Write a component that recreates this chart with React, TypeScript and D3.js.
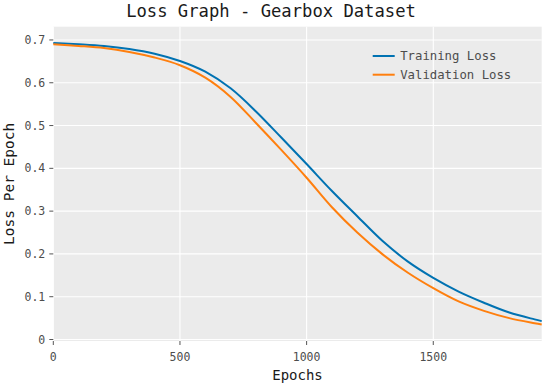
import React from "react";
import * as d3 from "d3";

const epochs = [0, 100, 200, 300, 400, 500, 600, 700, 800, 900, 1000, 1100, 1200, 1300, 1400, 1500, 1600, 1700, 1800, 1900, 1928];
const trainingLoss = [0.693, 0.690, 0.686, 0.679, 0.668, 0.651, 0.626, 0.587, 0.533, 0.472, 0.410, 0.347, 0.288, 0.230, 0.182, 0.144, 0.112, 0.086, 0.063, 0.047, 0.043];
const validationLoss = [0.690, 0.686, 0.681, 0.672, 0.659, 0.641, 0.612, 0.567, 0.506, 0.443, 0.378, 0.309, 0.250, 0.199, 0.156, 0.120, 0.089, 0.067, 0.050, 0.038, 0.035];
const xTicks = [0, 500, 1000, 1500];
const yTicks = [0, 0.1, 0.2, 0.3, 0.4, 0.5, 0.6, 0.7];
const seriesNames = ["Training Loss", "Validation Loss"];
const seriesColors = ["#0072B2", "#FF7F0E"];
const title = "Loss Graph - Gearbox Dataset";
const xTitle = "Epochs";
const yTitle = "Loss Per Epoch";

const W = 550;
const H = 389;
const panel = { left: 53.3, right: 541.7, top: 26.7, bottom: 341 };
const font = "'DejaVu Sans Mono', monospace";

export default function App() {
  const x = d3.scaleLinear().domain([0, 1928]).range([panel.left, panel.right]);
  const y = d3.scaleLinear().domain([-0.0035, 0.731]).range([panel.bottom, panel.top]);
  const line = d3
    .line<[number, number]>()
    .x((d) => x(d[0]))
    .y((d) => y(d[1]))
    .curve(d3.curveCatmullRom.alpha(0.5));
  const series = [trainingLoss, validationLoss].map((vals) =>
    epochs.map((e, i) => [e, vals[i]] as [number, number])
  );
  const fmtY = (v: number) => (v === 0 ? "0" : v.toFixed(1));

  return (
    <svg
      width={W}
      height={H}
      style={{ position: "absolute", left: 0, top: 0, background: "#fff" }}
    >
      <rect
        x={panel.left}
        y={panel.top}
        width={panel.right - panel.left}
        height={panel.bottom - panel.top}
        fill="#EBEBEB"
      />
      {yTicks.map((t) => (
        <line key={"gy" + t} x1={panel.left} x2={panel.right} y1={y(t)} y2={y(t)} stroke="#fff" strokeWidth={1.1} />
      ))}
      {xTicks.map((t) => (
        <line key={"gx" + t} x1={x(t)} x2={x(t)} y1={panel.top} y2={panel.bottom} stroke="#fff" strokeWidth={1.1} />
      ))}
      {series.map((s, i) => (
        <path key={i} d={line(s) || ""} fill="none" stroke={seriesColors[i]} strokeWidth={2} />
      ))}
      {yTicks.map((t) => (
        <g key={"ty" + t}>
          <line x1={panel.left - 4} x2={panel.left} y1={y(t)} y2={y(t)} stroke="#555" strokeWidth={1} />
          <text x={panel.left - 8} y={y(t) + 4} textAnchor="end" fontFamily={font} fontSize={11.5} fill="#4d4d4d">
            {fmtY(t)}
          </text>
        </g>
      ))}
      {xTicks.map((t) => (
        <g key={"tx" + t}>
          <line x1={x(t)} x2={x(t)} y1={panel.bottom} y2={panel.bottom + 4} stroke="#555" strokeWidth={1} />
          <text x={x(t)} y={360.5} textAnchor="middle" fontFamily={font} fontSize={11.5} fill="#4d4d4d">
            {t}
          </text>
        </g>
      ))}
      <text x={(panel.left + panel.right) / 2} y={380} textAnchor="middle" fontFamily={font} fontSize={14} fill="#1a1a1a">
        {xTitle}
      </text>
      <text
        transform={`translate(14, ${(panel.top + panel.bottom) / 2}) rotate(-90)`}
        textAnchor="middle"
        fontFamily={font}
        fontSize={14.5}
        fill="#1a1a1a"
      >
        {yTitle}
      </text>
      <text x={271} y={17} textAnchor="middle" fontFamily={font} fontSize={17.2} fill="#1a1a1a">
        {title}
      </text>
      {seriesNames.map((n, i) => (
        <g key={n} transform={`translate(372.7, ${56 + i * 18.7})`}>
          <line x1={0} x2={22} y1={0} y2={0} stroke={seriesColors[i]} strokeWidth={2} />
          <text x={27.5} y={4} fontFamily={font} fontSize={12.3} fill="#4d4d4d">
            {n}
          </text>
        </g>
      ))}
    </svg>
  );
}
